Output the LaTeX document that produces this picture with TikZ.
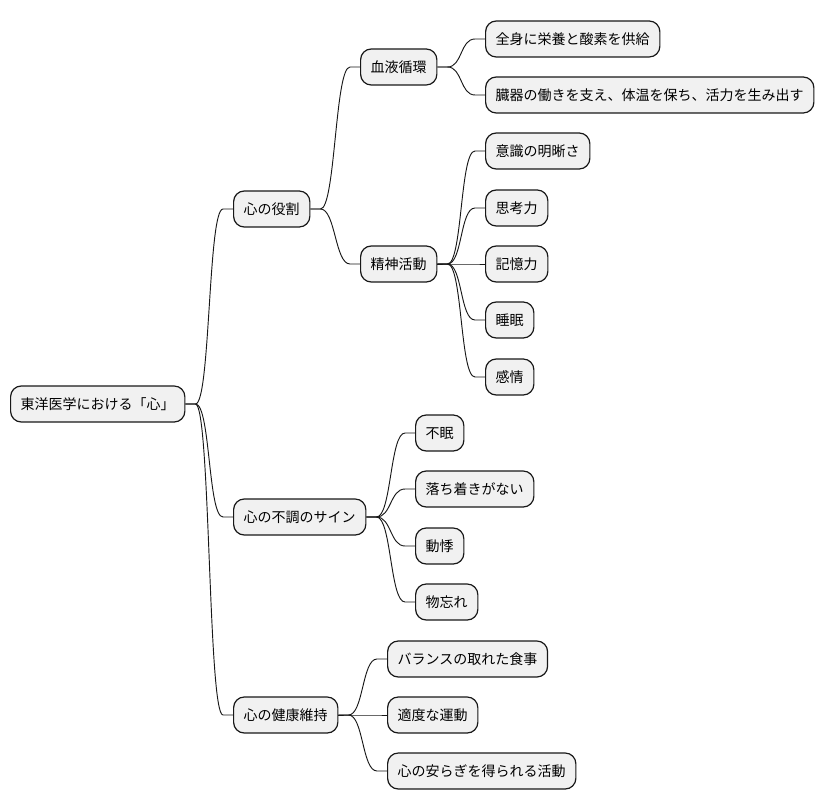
\documentclass[tikz,border=0pt]{standalone}
\usepackage{fontspec}
\setmainfont{Noto Sans CJK JP}
\definecolor{boxfill}{HTML}{F1F1F1}
\definecolor{boxline}{HTML}{181818}
\begin{document}
\begin{tikzpicture}[x=0.75pt,y=-0.75pt,
  box/.style={draw=boxline, line width=0.9pt, fill=boxfill, rounded corners=8pt,
    inner xsep=7.6pt, inner ysep=0pt, minimum height=27pt, anchor=west,
    font=\fontsize{10.5}{12}\selectfont},
  link/.style={draw=boxline, line width=0.7pt}]
\useasboundingbox (0,0) rectangle (824,809);
\newcommand\conn[2]{%
  \draw[link] (#1.east) -- ++(10,0) .. controls +(15,0) and +(-15,0) .. ([xshift=-7.5pt]#2.west) -- (#2.west);}
% nodes
\node[box] (root) at (10,404) {東洋医学における「心」};
\node[box] (r1) at (233,209) {心の役割};
\node[box] (r2) at (233,517) {心の不調のサイン};
\node[box] (r3) at (233,715) {心の健康維持};
\node[box] (a1) at (360,67) {血液循環};
\node[box] (a2) at (360,264) {精神活動};
\node[box] (a11) at (485,39) {全身に栄養と酸素を供給};
\node[box] (a12) at (485,95) {臓器の働きを支え、体温を保ち、活力を生み出す};
\node[box] (a21) at (485,151) {意識の明晰さ};
\node[box] (a22) at (485,208) {思考力};
\node[box] (a23) at (485,264) {記憶力};
\node[box] (a24) at (485,320) {睡眠};
\node[box] (a25) at (485,377) {感情};
\node[box] (b1) at (415,433) {不眠};
\node[box] (b2) at (415,489) {落ち着きがない};
\node[box] (b3) at (415,546) {動悸};
\node[box] (b4) at (415,602) {物忘れ};
\node[box] (c1) at (387,659) {バランスの取れた食事};
\node[box] (c2) at (387,715) {適度な運動};
\node[box] (c3) at (387,771) {心の安らぎを得られる活動};
% connectors
\conn{root}{r1}\conn{root}{r2}\conn{root}{r3}
\conn{r1}{a1}\conn{r1}{a2}
\conn{a1}{a11}\conn{a1}{a12}
\conn{a2}{a21}\conn{a2}{a22}\conn{a2}{a23}\conn{a2}{a24}\conn{a2}{a25}
\conn{r2}{b1}\conn{r2}{b2}\conn{r2}{b3}\conn{r2}{b4}
\conn{r3}{c1}\conn{r3}{c2}\conn{r3}{c3}
\end{tikzpicture}
\end{document}
